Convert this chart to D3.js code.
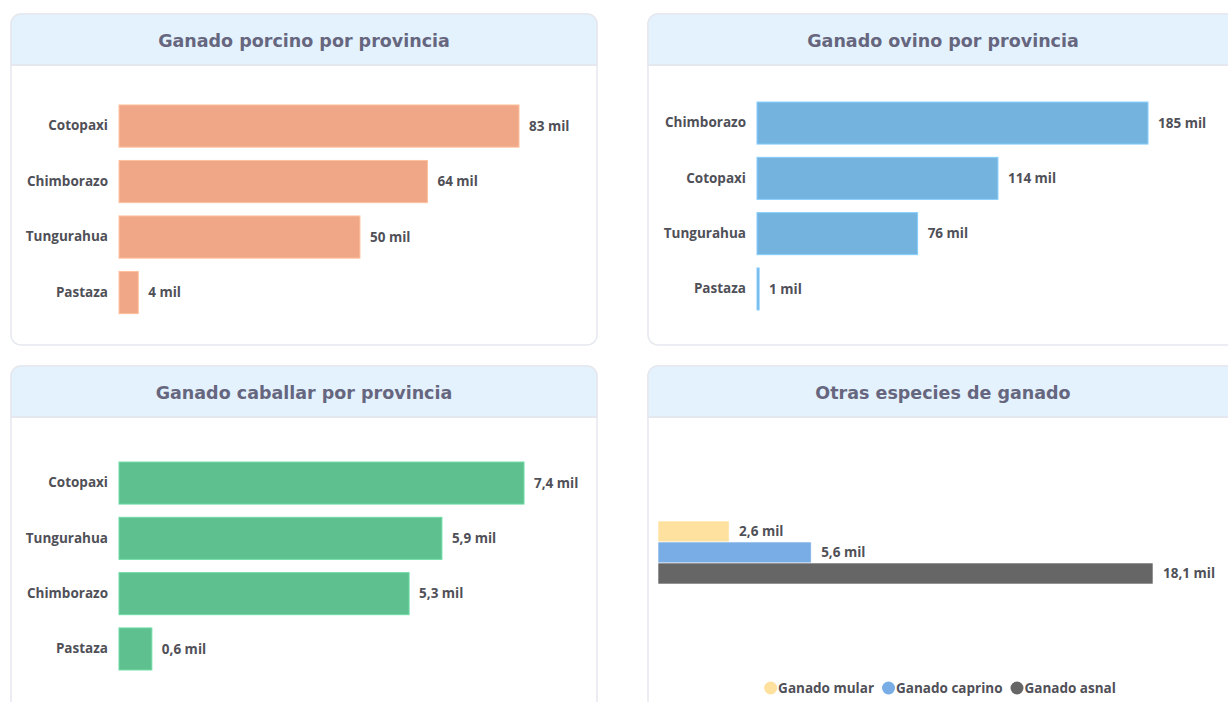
<!DOCTYPE html>
<html><head><meta charset="utf-8">
<script src="https://cdn.jsdelivr.net/npm/d3@7"></script>
<style>
html,body{margin:0;padding:0;background:#fff;}
svg{display:block;}
</style></head>
<body>
<svg id="c" width="1228" height="702"></svg>
<script>
// ---- data (values in thousands, "mil") ----
const porcinoCats = ["Cotopaxi", "Chimborazo", "Tungurahua", "Pastaza"];
const porcinoVals = [83, 64, 50, 4];
const ovinoCats = ["Chimborazo", "Cotopaxi", "Tungurahua", "Pastaza"];
const ovinoVals = [185, 114, 76, 1];
const caballarCats = ["Cotopaxi", "Tungurahua", "Chimborazo", "Pastaza"];
const caballarVals = [7.4, 5.9, 5.3, 0.6];
const otrasSeries = ["Ganado mular", "Ganado caprino", "Ganado asnal"];
const otrasVals = [2.6, 5.6, 18.1];
const titles = ["Ganado porcino por provincia", "Ganado ovino por provincia", "Ganado caballar por provincia", "Otras especies de ganado"];

const svg = d3.select("#c");
const loc = d3.formatLocale({decimal: ",", thousands: ".", grouping: [3], currency: ["$", ""]});
const f0 = loc.format(".0f"), f1 = loc.format(".1f");

const titleColor = "#66667f";
const labelColor = "#505058";
const labelFont = "'Open Sans', sans-serif";
const labelSize = 13.5, labelWeight = 700;

function panel(x, y, w, h, title) {
  const g = svg.append("g");
  const r = 10, hh = 51;
  g.append("rect").attr("x", x).attr("y", y).attr("width", w).attr("height", h)
    .attr("rx", r).attr("fill", "#fff").attr("stroke", "#e6e8ef").attr("stroke-width", 1.5);
  const p = d3.path();
  p.moveTo(x, y + hh); p.lineTo(x, y + r); p.arcTo(x, y, x + r, y, r);
  p.lineTo(x + w - r, y); p.arcTo(x + w, y, x + w, y + r, r); p.lineTo(x + w, y + hh); p.closePath();
  g.append("path").attr("d", p.toString()).attr("fill", "#e4f2fd").attr("stroke", "#e6e8ef").attr("stroke-width", 1.5);
  g.append("line").attr("x1", x).attr("x2", x + w).attr("y1", y + hh).attr("y2", y + hh)
    .attr("stroke", "#e3e6ee").attr("stroke-width", 1.5);
  g.append("text").attr("x", x + w / 2).attr("y", y + 27).attr("text-anchor", "middle")
    .attr("dominant-baseline", "central")
    .attr("font-family", "'DejaVu Sans', sans-serif").attr("font-weight", "bold").attr("font-size", 17.5)
    .attr("fill", titleColor).text(title);
}

function styleLabel(sel) {
  return sel.attr("font-family", labelFont).attr("font-weight", labelWeight)
    .attr("font-size", labelSize).attr("fill", labelColor);
}

function barChart(cats, vals, color, x0, width, yr, fmt) {
  const x = d3.scaleLinear().domain([0, d3.max(vals)]).range([x0, x0 + width]);
  const y = d3.scaleBand().domain(cats).range(yr).paddingInner(0.24).paddingOuter(0.12);
  const g = svg.append("g");
  const data = cats.map((c, i) => ({c, v: vals[i]}));
  g.selectAll("rect.bar").data(data).join("rect").attr("class", "bar")
    .attr("x", x(0)).attr("y", d => y(d.c)).attr("width", d => Math.max(1.5, x(d.v) - x(0)))
    .attr("height", y.bandwidth()).attr("fill", color)
    .attr("stroke", d3.color(color).brighter(0.4)).attr("stroke-width", 1);
  const ax = d3.axisLeft(y).tickSize(0).tickPadding(11);
  const ag = g.append("g").attr("transform", `translate(${x0},0)`).call(ax);
  ag.select(".domain").remove();
  styleLabel(ag.selectAll("text"));
  styleLabel(g.selectAll("text.val").data(data).join("text").attr("class", "val")
    .attr("x", d => x(d.v) + 10).attr("y", d => y(d.c) + y.bandwidth() / 2).attr("dy", "0.35em")
    .text(d => fmt(d.v) + " mil"));
}

panel(11, 14, 586, 331, titles[0]);
panel(648, 14, 590, 331, titles[1]);
panel(11, 366, 586, 345, titles[2]);
panel(648, 366, 590, 345, titles[3]);

barChart(porcinoCats, porcinoVals, "#f0a788", 119, 400, [98.3, 320.3], f0);
barChart(ovinoCats, ovinoVals, "#74b3de", 757, 391, [95.4, 316.6], f0);
barChart(caballarCats, caballarVals, "#5ebf8f", 119, 405, [455.4, 676.6], f1);

// Otras especies: one category, three series
(function () {
  const colors = ["#fee19e", "#78ade6", "#666666"];
  const x = d3.scaleLinear().domain([0, d3.max(otrasVals)]).range([658, 1153]);
  const y = d3.scaleBand().domain(otrasSeries).range([521, 584]).padding(0);
  const data = otrasSeries.map((s, i) => ({s, v: otrasVals[i], col: colors[i]}));
  const g = svg.append("g");
  g.selectAll("rect").data(data).join("rect")
    .attr("x", x(0)).attr("y", d => y(d.s)).attr("width", d => x(d.v) - x(0)).attr("height", y.bandwidth())
    .attr("fill", d => d.col).attr("stroke", "#fff").attr("stroke-width", 0.6);
  styleLabel(g.selectAll("text.val").data(data).join("text").attr("class", "val")
    .attr("x", d => x(d.v) + 10).attr("y", d => y(d.s) + y.bandwidth() / 2).attr("dy", "0.35em")
    .text(d => f1(d.v) + " mil"));
  // legend, centred around x = 940
  const lg = svg.append("g").attr("transform", "translate(0,688)");
  let cx = 0;
  data.forEach(d => {
    lg.append("circle").attr("cx", cx + 6.5).attr("cy", 0).attr("r", 6.5).attr("fill", d.col);
    const t = styleLabel(lg.append("text").attr("x", cx + 14).attr("y", 0).attr("dy", "0.35em")).text(d.s);
    cx += 14 + t.node().getComputedTextLength() + 8;
  });
  const total = cx - 8;
  lg.attr("transform", `translate(${940 - total / 2},688)`);
})();
</script>
</body></html>
